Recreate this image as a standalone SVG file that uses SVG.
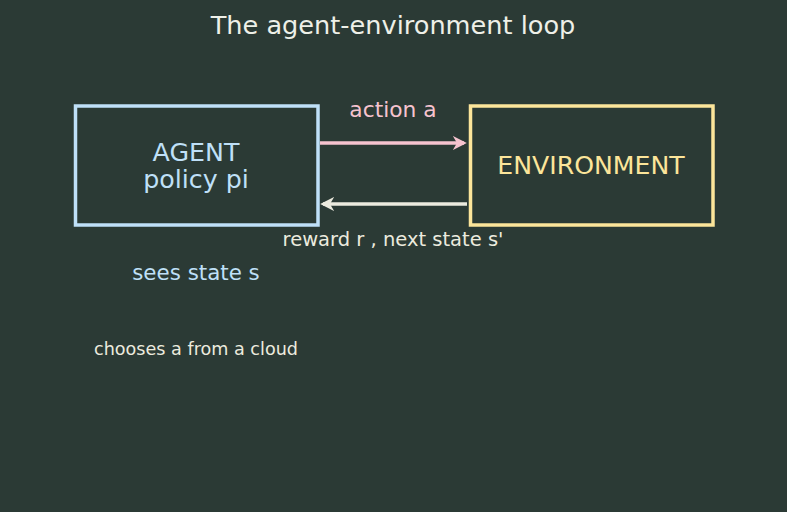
<svg xmlns="http://www.w3.org/2000/svg" width="787" height="512" viewBox="0 0 787 512">
<defs>
<style>
text{font-family:"DejaVu Sans","Liberation Sans",sans-serif;text-anchor:middle}
.box{fill:#2b3a35;stroke-width:3.5}
</style>
<marker id="hp" viewBox="0 0 10 10" refX="8" refY="5" markerWidth="4" markerHeight="4" orient="auto"><path d="M0,0 L10,5 L0,10 L3,5 z" fill="#f6c3cf"/></marker>
<marker id="hw" viewBox="0 0 10 10" refX="8" refY="5" markerWidth="4" markerHeight="4" orient="auto"><path d="M0,0 L10,5 L0,10 L3,5 z" fill="#ecebdf"/></marker>
</defs>
<rect width="787" height="512" fill="#2b3a35"/>
<text x="393" y="34" font-size="25.6" fill="#eef0e8">The agent-environment loop</text>
<g id="agent">
<rect class="box" x="75.5" y="106" width="242.5" height="119" stroke="#bfe0f8"/>
<text x="196" y="161" font-size="25.3" fill="#bfe0f8">AGENT</text>
<text x="196" y="188" font-size="25.3" fill="#bfe0f8">policy pi</text>
</g>
<g id="environment">
<rect class="box" x="470.5" y="106" width="242.5" height="119" stroke="#fce59a"/>
<text x="591" y="174" font-size="25.2" fill="#fce59a">ENVIRONMENT</text>
</g>
<g id="connectors">
<line x1="320" y1="143" x2="464" y2="143" stroke="#f6c3cf" stroke-width="3.5" marker-end="url(#hp)"/>
<line x1="467" y1="204" x2="323" y2="204" stroke="#ecebdf" stroke-width="3.5" marker-end="url(#hw)"/>
<text x="393" y="117" font-size="21.8" fill="#f6c3cf">action a</text>
<text x="393" y="246" font-size="19.5" fill="#ecebdf">reward r , next state s'</text>
</g>
<text x="196" y="280" font-size="21.4" fill="#bfe0f8">sees state s</text>
<text x="196" y="355" font-size="17.6" fill="#ecebdf">chooses a from a cloud</text>
</svg>
